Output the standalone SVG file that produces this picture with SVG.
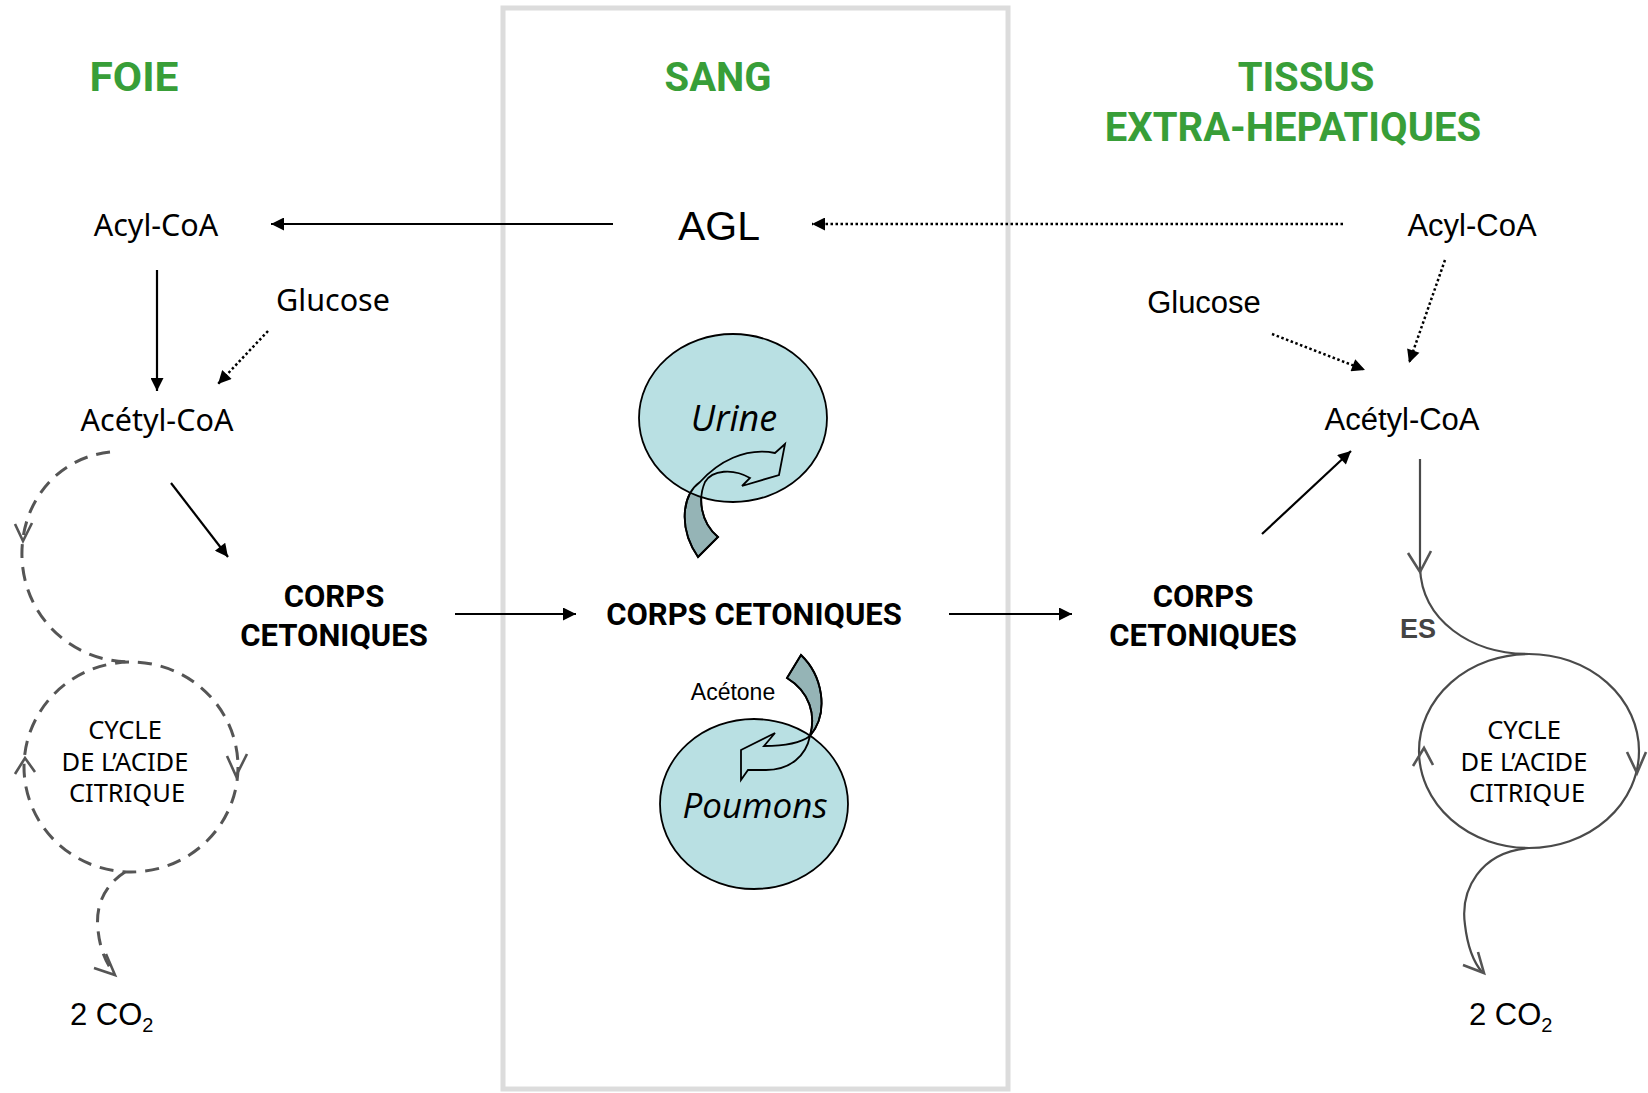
<svg xmlns="http://www.w3.org/2000/svg" width="1648" height="1093" viewBox="0 0 1648 1093">
<style>
.title{font-family:Roboto,"Liberation Sans",sans-serif;font-weight:bold;font-size:40px;fill:#389e38;text-anchor:middle}
.lt{font-family:"Noto Sans","Liberation Sans",sans-serif;font-size:30.5px;fill:#000;text-anchor:middle}
.rt{font-family:"Liberation Sans",Arial,sans-serif;font-size:31px;fill:#000;text-anchor:middle}
.corps{font-family:Roboto,"Liberation Sans",sans-serif;font-weight:bold;font-size:31px;fill:#000;text-anchor:middle}
.cyc{font-family:"Noto Sans","Liberation Sans",sans-serif;font-size:25.5px;fill:#000;text-anchor:middle}
.organ{font-family:"Open Sans","Noto Sans",sans-serif;font-style:italic;fill:#000;text-anchor:middle}
.line{stroke:#000;stroke-width:2.2;fill:none}
.dot{stroke:#000;stroke-width:2.5;fill:none;stroke-dasharray:2.5 2.5}
.dash{stroke:#555;stroke-width:3;fill:none;stroke-dasharray:14 9}
.cyl{stroke:#4a4a4a;stroke-width:2.2;fill:none}
.chev{stroke:#555;stroke-width:2.6;fill:none;stroke-linejoin:miter}
.ell{fill:#b9e0e3;stroke:#000;stroke-width:1.8}
.arw{fill:#95b4b6;stroke:#000;stroke-width:1.8;stroke-linejoin:miter}
.arwo{fill:none;stroke:#000;stroke-width:1.8;stroke-linejoin:miter}
</style>
<defs>
<marker id="ah" viewBox="0 0 10 10" refX="10" refY="5" markerWidth="16" markerHeight="13" markerUnits="userSpaceOnUse" orient="auto"><path d="M0,0 L10,5 L0,10 z" fill="#000"/></marker>
</defs>

<rect id="sang-box" x="503" y="8" width="505" height="1081" fill="none" stroke="#dcdcdc" stroke-width="5"/>

<g id="titles">
<text class="title" x="134" y="91" textLength="89" lengthAdjust="spacingAndGlyphs">FOIE</text>
<text class="title" x="718" y="91">SANG</text>
<text class="title" x="1306" y="91">TISSUS</text>
<text class="title" x="1293" y="141">EXTRA-HEPATIQUES</text>
</g>

<g id="connectors">
<line class="line" x1="613" y1="224" x2="271" y2="224" marker-end="url(#ah)"/>
<line class="dot" x1="1343" y1="224" x2="812" y2="224" marker-end="url(#ah)"/>
<line class="line" x1="157" y1="270" x2="157" y2="391" marker-end="url(#ah)"/>
<line class="dot" x1="268" y1="331" x2="218" y2="384" marker-end="url(#ah)"/>
<line class="line" x1="171" y1="483" x2="228" y2="557" marker-end="url(#ah)"/>
<line class="line" x1="455" y1="614" x2="576" y2="614" marker-end="url(#ah)"/>
<line class="line" x1="949" y1="614" x2="1072" y2="614" marker-end="url(#ah)"/>
<line class="line" x1="1262" y1="534" x2="1351" y2="451" marker-end="url(#ah)"/>
<line class="dot" x1="1272" y1="334" x2="1365" y2="370" marker-end="url(#ah)"/>
<line class="dot" x1="1445" y1="260" x2="1409" y2="363" marker-end="url(#ah)"/>
</g>

<g id="cycle-foie">
<path class="dash" d="M110,452 C55,458 20,505 22,558 C24,615 70,662 131,662"/>
<ellipse class="dash" cx="131" cy="767" rx="107" ry="105"/>
<path class="dash" d="M125,872 C105,885 95,905 98,930 C100,950 106,962 114,974"/>
<path class="chev" d="M15,524 L23,541 L32,523"/>
<path class="chev" d="M15,774 L25,758 L35,772"/>
<path class="chev" d="M227,756 L236,776 L247,754"/>
<path class="chev" d="M94,968 L115,975 L106,954"/>
<text class="cyc" x="125" y="739">CYCLE</text>
<text class="cyc" x="125" y="771">DE L’ACIDE</text>
<text class="cyc" x="127" y="802">CITRIQUE</text>
</g>

<g id="cycle-tissus">
<path class="cyl" d="M1420,459 L1420,568 C1422,620 1470,654 1529,654"/>
<ellipse class="cyl" cx="1529" cy="751" rx="110" ry="97"/>
<path class="cyl" d="M1529,848 C1480,852 1460,890 1465,925 C1468,950 1476,965 1482,972"/>
<path class="chev" d="M1408,553 L1420,572 L1431,551"/>
<path class="chev" d="M1413,766 L1424,748 L1433,765"/>
<path class="chev" d="M1627,752 L1637,773 L1646,752"/>
<path class="chev" d="M1463,965 L1484,973 L1478,952"/>
<text x="1418" y="638" font-family="Liberation Sans, Arial, sans-serif" font-weight="bold" font-size="27" fill="#444" text-anchor="middle">ES</text>
<text class="cyc" x="1524" y="739">CYCLE</text>
<text class="cyc" x="1524" y="771">DE L’ACIDE</text>
<text class="cyc" x="1527" y="802">CITRIQUE</text>
</g>

<g id="urine">
<path class="arw" d="M698,557 C678,528 682,495 700,482 C718,462 745,447 775,453 L785,444 L779,475 L742,486 L750,478 C733,468 712,470 705,482 C698,498 700,522 718,537 Z"/>
<ellipse class="ell" cx="733" cy="418" rx="94" ry="84"/>
<path class="arwo" d="M698,557 C678,528 682,495 700,482 C718,462 745,447 775,453 L785,444 L779,475 L742,486 L750,478 C733,468 712,470 705,482 C698,498 700,522 718,537 Z"/>
<text class="organ" x="734" y="431" font-size="36">Urine</text>
</g>

<g id="poumons">
<path class="arw" d="M801,655 C822,675 830,712 810,736 C806,756 790,770 766,770 L748,770 L741,780 L741,750 L775,733 L764,746 C785,746 802,742 810,736 C816,715 810,692 787,678 Z"/>
<ellipse class="ell" cx="754" cy="804" rx="94" ry="85"/>
<path class="arwo" d="M801,655 C822,675 830,712 810,736 C806,756 790,770 766,770 L748,770 L741,780 L741,750 L775,733 L764,746 C785,746 802,742 810,736 C816,715 810,692 787,678 Z"/>
<text class="organ" x="755" y="818" font-size="35">Poumons</text>
</g>

<g id="acetone"><text x="733" y="700" font-family="Liberation Sans, Arial, sans-serif" font-size="23" text-anchor="middle">Acétone</text></g>

<g id="foie-acyl"><text class="lt" x="156" y="236">Acyl-CoA</text></g>
<g id="foie-glucose"><text class="lt" x="333" y="311">Glucose</text></g>
<g id="foie-acetyl"><text class="lt" x="157" y="431">Acétyl-CoA</text></g>
<g id="foie-corps"><text class="corps" x="334" y="607">CORPS</text><text class="corps" x="334" y="646">CETONIQUES</text></g>
<g id="foie-co2"><text x="70" y="1025" font-family="Liberation Sans, Arial, sans-serif" font-size="31">2 CO<tspan font-size="20" dy="7">2</tspan></text></g>

<g id="agl"><text x="719" y="240" font-family="Liberation Sans, Arial, sans-serif" font-size="41" text-anchor="middle">AGL</text></g>
<g id="sang-corps"><text class="corps" x="754" y="625">CORPS CETONIQUES</text></g>

<g id="tissus-acyl"><text class="rt" x="1472" y="236">Acyl-CoA</text></g>
<g id="tissus-glucose"><text class="rt" x="1204" y="313">Glucose</text></g>
<g id="tissus-acetyl"><text class="rt" x="1402" y="430">Acétyl-CoA</text></g>
<g id="tissus-corps"><text class="corps" x="1203" y="607">CORPS</text><text class="corps" x="1203" y="646">CETONIQUES</text></g>
<g id="tissus-co2"><text x="1469" y="1025" font-family="Liberation Sans, Arial, sans-serif" font-size="31">2 CO<tspan font-size="20" dy="7">2</tspan></text></g>
</svg>
